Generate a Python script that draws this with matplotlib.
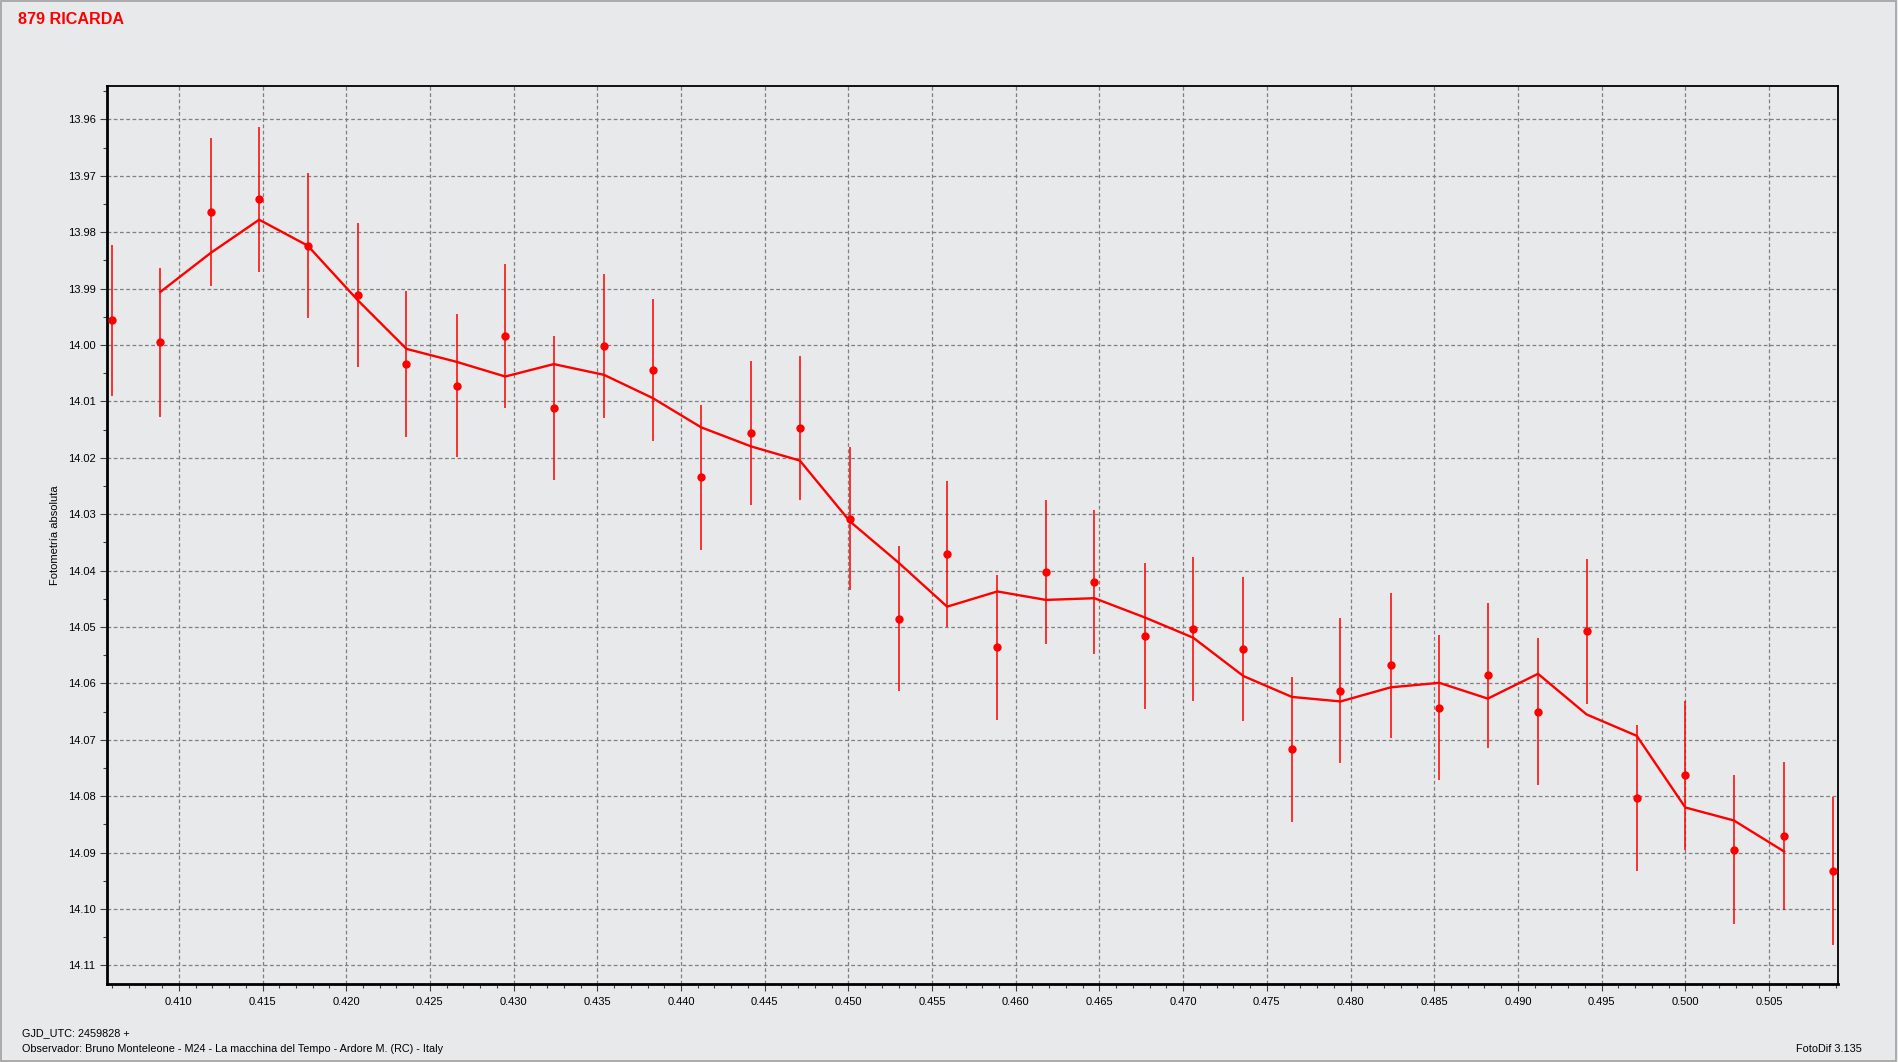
# Libraries
import matplotlib
matplotlib.use('Agg')
import matplotlib.pyplot as plt
from matplotlib.ticker import MultipleLocator, FormatStrFormatter
from matplotlib.patches import Rectangle

# Data (phase offset from GJD 2459828, magnitude)
gjd = [0.4060, 0.4089, 0.4119, 0.4148, 0.4177, 0.4207, 0.4236, 0.4266, 0.4295,
       0.4324, 0.4354, 0.4383, 0.4412, 0.4442, 0.4471, 0.4501, 0.4530, 0.4559,
       0.4589, 0.4618, 0.4647, 0.4677, 0.4706, 0.4736, 0.4765, 0.4794, 0.4824,
       0.4853, 0.4882, 0.4912, 0.4941, 0.4971, 0.5000, 0.5029, 0.5059, 0.5088]
mag = [13.9956, 13.9995, 13.9765, 13.9742, 13.9824, 13.9911, 14.0034, 14.0072, 13.9984,
       14.0112, 14.0002, 14.0045, 14.0235, 14.0156, 14.0147, 14.0308, 14.0485, 14.0371,
       14.0536, 14.0403, 14.0420, 14.0516, 14.0504, 14.0539, 14.0717, 14.0613, 14.0568,
       14.0643, 14.0586, 14.0650, 14.0508, 14.0803, 14.0763, 14.0895, 14.0871, 14.0932]
err = [0.0134, 0.0132, 0.0131, 0.0129, 0.0129, 0.0128, 0.0129, 0.0127, 0.0127,
       0.0127, 0.0128, 0.0126, 0.0128, 0.0128, 0.0128, 0.0127, 0.0129, 0.0129,
       0.0129, 0.0128, 0.0128, 0.0129, 0.0128, 0.0128, 0.0129, 0.0129, 0.0128,
       0.0129, 0.0128, 0.0130, 0.0128, 0.0130, 0.0132, 0.0132, 0.0131, 0.0131]

# Smoothed curve (from the 2nd to the 35th point)
gjd_smooth = gjd[1:35]
mag_smooth = [13.9906, 13.9837, 13.9778, 13.9824, 13.9921, 14.0007, 14.0030, 14.0056,
              14.0034, 14.0053, 14.0094, 14.0146, 14.0180, 14.0205, 14.0313, 14.0386,
              14.0464, 14.0437, 14.0452, 14.0449, 14.0483, 14.0519, 14.0587, 14.0624,
              14.0632, 14.0607, 14.0599, 14.0627, 14.0583, 14.0655, 14.0693, 14.0820,
              14.0843, 14.0898]

title = '879 RICARDA'
ylabel = 'Fotometría absoluta'
footer1 = 'GJD_UTC: 2459828 +'
footer2 = 'Observador: Bruno Monteleone - M24 - La macchina del Tempo - Ardore M. (RC) - Italy'
footer3 = 'FotoDif 3.135'

bg = '#e8e9eb'
sans = ['Liberation Sans', 'DejaVu Sans']

# Figure
fig = plt.figure(figsize=(18.98, 10.62), dpi=100, facecolor=bg)
fig.patches.append(Rectangle((0.0005, 0.001), 0.9985, 0.998, transform=fig.transFigure,
                             fill=False, edgecolor='#a0a0a0', lw=1.2))

ax = fig.add_axes([0.0562, 0.0734, 0.9120, 0.8456], facecolor=bg)

# Error bars and points
ax.errorbar(gjd, mag, yerr=err, fmt='o', color='red', ecolor='red', elinewidth=1.1,
            markersize=5, capsize=0, zorder=3)

# Smoothed line
ax.plot(gjd_smooth, mag_smooth, color='red', lw=1.7, zorder=4)

# Axes limits
ax.set_xlim(0.40569, 0.50910)
ax.set_ylim(14.1133, 13.9541)

# Ticks
ax.xaxis.set_major_locator(MultipleLocator(0.005))
ax.xaxis.set_minor_locator(MultipleLocator(0.001))
ax.yaxis.set_major_locator(MultipleLocator(0.01))
ax.yaxis.set_minor_locator(MultipleLocator(0.005))
ax.xaxis.set_major_formatter(FormatStrFormatter('%.3f'))
ax.yaxis.set_major_formatter(FormatStrFormatter('%.2f'))
ax.tick_params(which='major', direction='out', length=5, width=0.8, color='#404040')
ax.tick_params(which='minor', direction='out', length=3, width=0.8, color='#404040')
ax.tick_params(axis='x', which='major', labelsize=8, pad=4)
ax.tick_params(axis='y', which='major', labelsize=8, pad=3)
for lab in ax.get_xticklabels() + ax.get_yticklabels():
    lab.set_family(sans)

# Grid
ax.grid(True, which='major', color='#808080', linestyle=(0, (3, 2)), lw=0.9)
ax.set_axisbelow(True)

# Spines
ax.spines['left'].set_linewidth(2)
ax.spines['bottom'].set_linewidth(2)
ax.spines['top'].set_linewidth(1.3)
ax.spines['right'].set_linewidth(1.3)

# Labels
ax.set_ylabel(ylabel, fontsize=8, family=sans)
ax.yaxis.set_label_coords(-0.0272, 0.5)
fig.text(0.0095, 0.982, title, color='red', fontsize=11.6, fontweight='bold',
         family=sans, va='center', ha='left')
fig.text(0.0116, 0.0275, footer1, fontsize=7.8, family=sans, va='center', ha='left')
fig.text(0.0116, 0.0125, footer2, fontsize=7.8, family=sans, va='center', ha='left')
fig.text(0.981, 0.0125, footer3, fontsize=7.8, family=sans, va='center', ha='right')

plt.savefig('out.png', dpi=100, facecolor=bg)
